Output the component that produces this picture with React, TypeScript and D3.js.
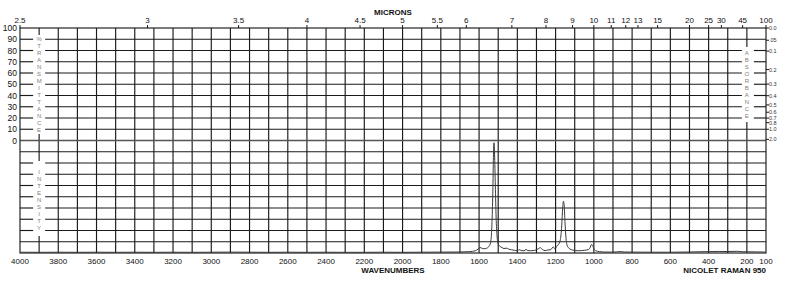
import React from "react";
import * as d3 from "d3";

// ---- data ----
const wavenumberTicks = [4000, 3800, 3600, 3400, 3200, 3000, 2800, 2600, 2400, 2200, 2000, 1800, 1600, 1400, 1200, 1000, 800, 600, 400, 200, 100];
const micronValues = [2.5, 3, 3.5, 4, 4.5, 5, 5.5, 6, 7, 8, 9, 10, 11, 12, 13, 15, 20, 25, 30, 45, 100];
const micronLabels = ["2.5", "3", "3.5", "4", "4.5", "5", "5.5", "6", "7", "8", "9", "10", "11", "12", "13", "15", "20", "25", "30", "45", "100"];
const transmittanceTicks = [100, 90, 80, 70, 60, 50, 40, 30, 20, 10, 0];
const absorbanceValues = [0, 0.05, 0.1, 0.2, 0.3, 0.4, 0.5, 0.6, 0.7, 0.8, 1.0, 2.0];
const absorbanceLabels = ["0.0", ".05", "0.1", "0.2", "0.3", "0.4", "0.5", "0.6", "0.7", "0.8", "1.0", "2.0"];

const specWavenumber = [
  4000, 3900, 3800, 3700, 3600, 3500, 3400, 3300, 3200, 3100, 3000, 2900, 2800, 2700, 2600, 2500, 2400, 2300, 2200, 2100,
  2000, 1900, 1800, 1700, 1650, 1620, 1605, 1595, 1588, 1580, 1570, 1560, 1550, 1540, 1533, 1528, 1525, 1522, 1519, 1515,
  1511, 1506, 1500, 1490, 1480, 1470, 1455, 1445, 1430, 1415, 1400, 1390, 1380, 1365, 1355, 1345, 1330, 1310, 1290, 1280,
  1270, 1255, 1240, 1225, 1212, 1205, 1198, 1192, 1185, 1175, 1168, 1163, 1159, 1155, 1151, 1146, 1140, 1130, 1110, 1080,
  1050, 1030, 1020, 1013, 1007, 1000, 990, 970, 950, 900, 880, 860, 840, 800, 700, 600, 500, 450, 400, 350,
  300, 250, 220, 150, 100,
];
const specIntensity = [
  0.7, 0.6, 0.7, 0.6, 0.7, 0.6, 0.7, 0.6, 0.7, 0.6, 0.7, 0.8, 0.7, 0.6, 0.7, 0.6, 0.7, 0.6, 0.6, 0.7,
  0.6, 0.7, 0.8, 0.9, 1.2, 2.0, 3.5, 4.8, 4.5, 3.8, 3.9, 4.3, 5.5, 9, 25, 55, 85, 98, 88, 60,
  32, 15, 8, 5.8, 4.8, 4.0, 4.3, 3.4, 2.9, 2.4, 2.0, 3.0, 2.2, 1.9, 3.2, 2.1, 2.0, 2.3, 3.8, 4.8,
  3.2, 2.1, 2.7, 3.0, 5.5, 3.8, 4.8, 6.5, 7.5, 12, 24, 40, 46, 42, 28, 14, 7, 4.2, 2.6, 2.0,
  2.4, 3.0, 4.6, 7.5, 7.0, 3.8, 2.0, 1.2, 0.9, 0.8, 1.0, 1.3, 0.9, 0.8, 0.7, 0.7, 0.9, 1.1, 1.2, 1.4,
  1.3, 1.5, 1.1, 1.0, 0.8,
];

// ---- layout ----
const W = 800, H = 296;
const L = 20, R = 766, T = 28, B = 253;
const MID = (T + B) / 2;
const FONT = "'Liberation Sans', Arial, Helvetica, sans-serif";
const GRID = "#1a1a1a";

const x = d3.scaleLinear().domain([4000, 100]).range([L, R]);
const yT = d3.scaleLinear().domain([0, 100]).range([MID, T]);
const yI = d3.scaleLinear().domain([0, 100]).range([B, MID]);
const rowY = d3.scaleLinear().domain([0, 20]).range([T, B]);

const leftColX = x(3900);
const rightColX = x(200);

export default function App() {
  const gridW = d3.range(3900, 199, -100);
  const rows = d3.range(1, 20);

  const hSegs: { x1: number; x2: number; y: number }[] = [];
  rows.forEach((r) => {
    const y = rowY(r);
    const cuts: [number, number][] = [];
    if ((y > 35 && y < 134) || (y > 160 && y < 236)) cuts.push([leftColX - 6, leftColX + 6]);
    if (y > 47 && y < 122) cuts.push([rightColX - 5, rightColX + 7]);
    let start = L;
    cuts.forEach(([a, b]) => {
      hSegs.push({ x1: start, x2: a, y });
      start = b;
    });
    hSegs.push({ x1: start, x2: R, y });
  });

  const vSegs: { x: number; y1: number; y2: number }[] = [];
  gridW.forEach((w) => {
    const xx = x(w);
    if (w === 3900) {
      vSegs.push({ x: xx, y1: T, y2: 35 });
      vSegs.push({ x: xx, y1: 134, y2: 161 });
      vSegs.push({ x: xx, y1: 236, y2: B });
    } else if (w === 200) {
      vSegs.push({ x: xx, y1: T, y2: 47 });
      vSegs.push({ x: xx, y1: 122, y2: B });
    } else {
      vSegs.push({ x: xx, y1: T, y2: B });
    }
  });

  const pts = specWavenumber.map((w, i) => [w, specIntensity[i]] as [number, number]);
  const path = d3
    .line<[number, number]>()
    .x((d) => x(d[0]))
    .y((d) => yI(d[1]))
    .curve(d3.curveMonotoneX)(pts) as string;

  const colLetters = (text: string, cx: number, y0: number) =>
    text.split("").map((c, i) => (
      <text key={text + i} x={cx} y={y0 + i * 7 + 2} fontSize={6} fill="#808080" textAnchor="middle" fontFamily={FONT}>
        {c}
      </text>
    ));

  return (
    <svg width={W} height={H} style={{ position: "absolute", left: 0, top: 0, background: "#fff" }}>
      <rect x={0} y={0} width={W} height={H} fill="#fff" />
      {/* grid */}
      {vSegs.map((s, i) => (
        <line key={"v" + i} x1={s.x} x2={s.x} y1={s.y1} y2={s.y2} stroke={GRID} strokeWidth={1.15} />
      ))}
      {hSegs.map((s, i) => (
        <line key={"h" + i} x1={s.x1} x2={s.x2} y1={s.y} y2={s.y} stroke={GRID} strokeWidth={1.15} />
      ))}
      <line x1={L} x2={R} y1={MID} y2={MID} stroke="#555" strokeWidth={1.6} />
      <rect x={L} y={T} width={R - L} height={B - T} fill="none" stroke={GRID} strokeWidth={1.15} />

      {/* spectrum */}
      <path d={path} fill="none" stroke="#3a3a3a" strokeWidth={1} />

      {/* left transmittance labels */}
      {transmittanceTicks.map((t) => (
        <text key={"t" + t} x={17} y={yT(t) + 3} fontSize={8.5} textAnchor="end" fontFamily={FONT} fill="#111">
          {t}
        </text>
      ))}

      {/* right absorbance ticks */}
      {absorbanceValues.map((a, i) => {
        const yy = yT(100 * Math.pow(10, -a));
        return (
          <g key={"a" + i}>
            <line x1={R} x2={R + 3} y1={yy} y2={yy} stroke={GRID} strokeWidth={1} />
            <text x={R + 3} y={yy + 2} fontSize={5.5} fontFamily={FONT} fill="#333">
              {absorbanceLabels[i]}
            </text>
          </g>
        );
      })}

      {/* top micron axis */}
      {micronValues.map((m, i) => {
        const xx = x(10000 / m);
        return (
          <g key={"m" + i}>
            <line x1={xx} x2={xx} y1={T - 3} y2={T} stroke={GRID} strokeWidth={1} />
            <text x={xx} y={23} fontSize={8} textAnchor="middle" fontFamily={FONT} fill="#111">
              {micronLabels[i]}
            </text>
          </g>
        );
      })}
      <text x={(L + R) / 2} y={15} fontSize={8} fontWeight="bold" textAnchor="middle" fontFamily={FONT} fill="#111">
        MICRONS
      </text>

      {/* bottom wavenumber axis */}
      {wavenumberTicks.map((w) => (
        <text key={"w" + w} x={x(w)} y={264} fontSize={8} textAnchor="middle" fontFamily={FONT} fill="#111">
          {w}
        </text>
      ))}
      <text x={(L + R) / 2} y={273} fontSize={8} fontWeight="bold" textAnchor="middle" fontFamily={FONT} fill="#111">
        WAVENUMBERS
      </text>
      <text x={R} y={273} fontSize={8} fontWeight="bold" textAnchor="end" fontFamily={FONT} fill="#111">
        NICOLET RAMAN 950
      </text>

      {/* column labels */}
      {colLetters("%TRANSMITTANCE", leftColX, 39)}
      {colLetters("INTENSITY", leftColX, 172)}
      {colLetters("ABSORBANCE", rightColX, 53)}
    </svg>
  );
}
